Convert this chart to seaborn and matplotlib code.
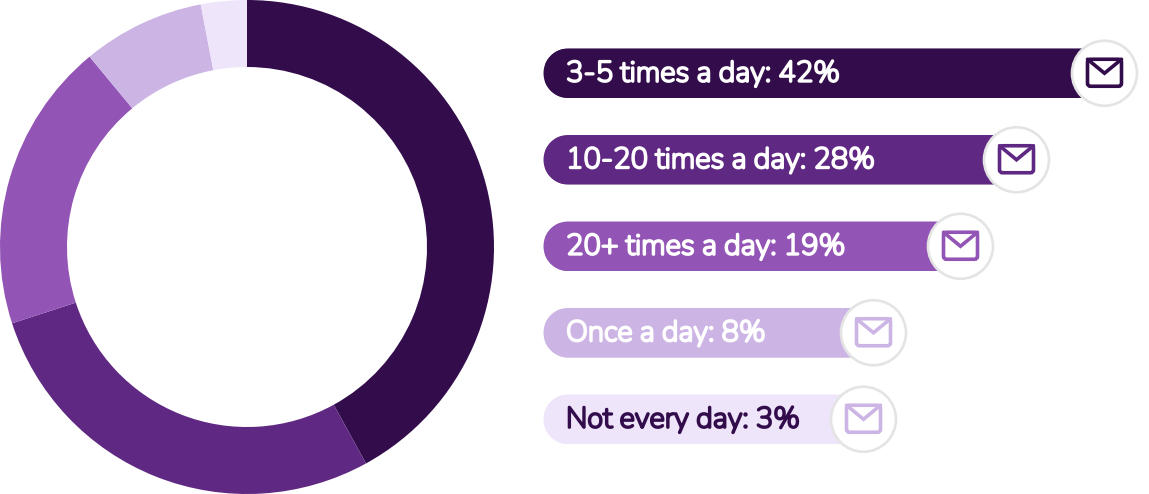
import numpy as np
import pandas as pd
import matplotlib.pyplot as plt
import matplotlib.patheffects as pe
import seaborn as sns
from matplotlib.lines import Line2D
from matplotlib.patches import Circle, FancyBboxPatch, Polygon

categories = ["3-5 times a day", "10-20 times a day", "20+ times a day", "Once a day", "Not every day"]
shares = [42, 28, 19, 8, 3]
# bar lengths in the picture are not proportional to the shares
bar_lengths = [561, 473, 417, 330, 320]
colors = ["#330d4b", "#5f2882", "#9254b5", "#ccb5e5", "#efe5fb"]
text_colors = ["white", "white", "white", "white", "#330d4b"]
icon_colors = ["#330d4b", "#5f2882", "#9254b5", "#ccb5e5", "#ccb5e5"]

W, H = 1149, 494

sns.set_theme(style="white")
plt.rcParams["font.family"] = ["Nunito", "Lato", "DejaVu Sans"]

fig = plt.figure(figsize=(W / 100, H / 100), dpi=100)
fig.patch.set_facecolor("white")

# donut
ax_pie = fig.add_axes([0, 0, H / W, 1])
ax_pie.pie(shares, colors=colors, startangle=90, counterclock=False, radius=1,
           wedgeprops={"width": 67 / 247, "linewidth": 0})
ax_pie.set_xlim(-1, 1)
ax_pie.set_ylim(-1, 1)

# bars, one category step is 86.5 px
df = pd.DataFrame({"category": categories, "length": bar_lengths})
ax_bar = fig.add_axes([543.5 / W, (H - 462.5) / H, 605 / W, 432.5 / H])
sns.barplot(data=df, y="category", x="length", hue="category", palette=colors,
            legend=False, width=49.5 / 86.5, saturation=1, ax=ax_bar)
ax_bar.set_xlim(0, 605)
ax_bar.set_ylim(4.5, -0.5)
ax_bar.axis("off")

# overlay in reference pixels for the rounded ends and the envelope badges
ax_top = fig.add_axes([0, 0, 1, 1], zorder=5)
ax_top.set_xlim(0, W)
ax_top.set_ylim(H, 0)
ax_top.axis("off")
ax_top.patch.set_alpha(0)

fig.canvas.draw()
to_px = ax_top.transData.inverted()
arc = np.linspace(np.pi / 2, 3 * np.pi / 2, 40)

for i, (bar, cat, share) in enumerate(zip(ax_bar.patches, categories, shares)):
    (x0, y0), (x1, y1) = to_px.transform(bar.get_window_extent().get_points())
    top, bottom = min(y0, y1), max(y0, y1)
    r = (bottom - top) / 2
    cy = (top + bottom) / 2

    # clip the left end of the bar to a half circle
    outline = np.column_stack([x0 + r + r * np.cos(arc), cy + r * np.sin(arc)])
    outline = np.vstack([outline, [x1 + 5, top], [x1 + 5, bottom]])
    bar.set_clip_path(Polygon(outline, transform=ax_top.transData))
    # clip paths come out jagged, so lay a smooth copy of the end on top
    ax_top.add_patch(Polygon(outline, facecolor=colors[i], edgecolor="none"))

    # the installed Nunito is a light cut, the stroke brings it up to bold
    ax_top.text(566, cy + 0.5, f"{cat}: {share}%", color=text_colors[i], fontsize=21,
                va="center", ha="left",
                path_effects=[pe.withStroke(linewidth=1.6, foreground=text_colors[i])])

    # badge
    cx = x1
    ax_top.add_patch(Circle((cx, cy), 32.5, facecolor="white", edgecolor="#e4e4e4", linewidth=1.9))
    c = icon_colors[i]
    ax_top.add_patch(FancyBboxPatch((cx - 17, cy - 14), 34, 27,
                                    boxstyle="round,pad=0,rounding_size=3",
                                    facecolor="none", edgecolor=c, linewidth=2.6))
    ax_top.add_line(Line2D([cx - 17, cx, cx + 17], [cy - 14, cy, cy - 14],
                           color=c, linewidth=2.6, solid_joinstyle="miter"))

fig.savefig("out.png", dpi=100)
